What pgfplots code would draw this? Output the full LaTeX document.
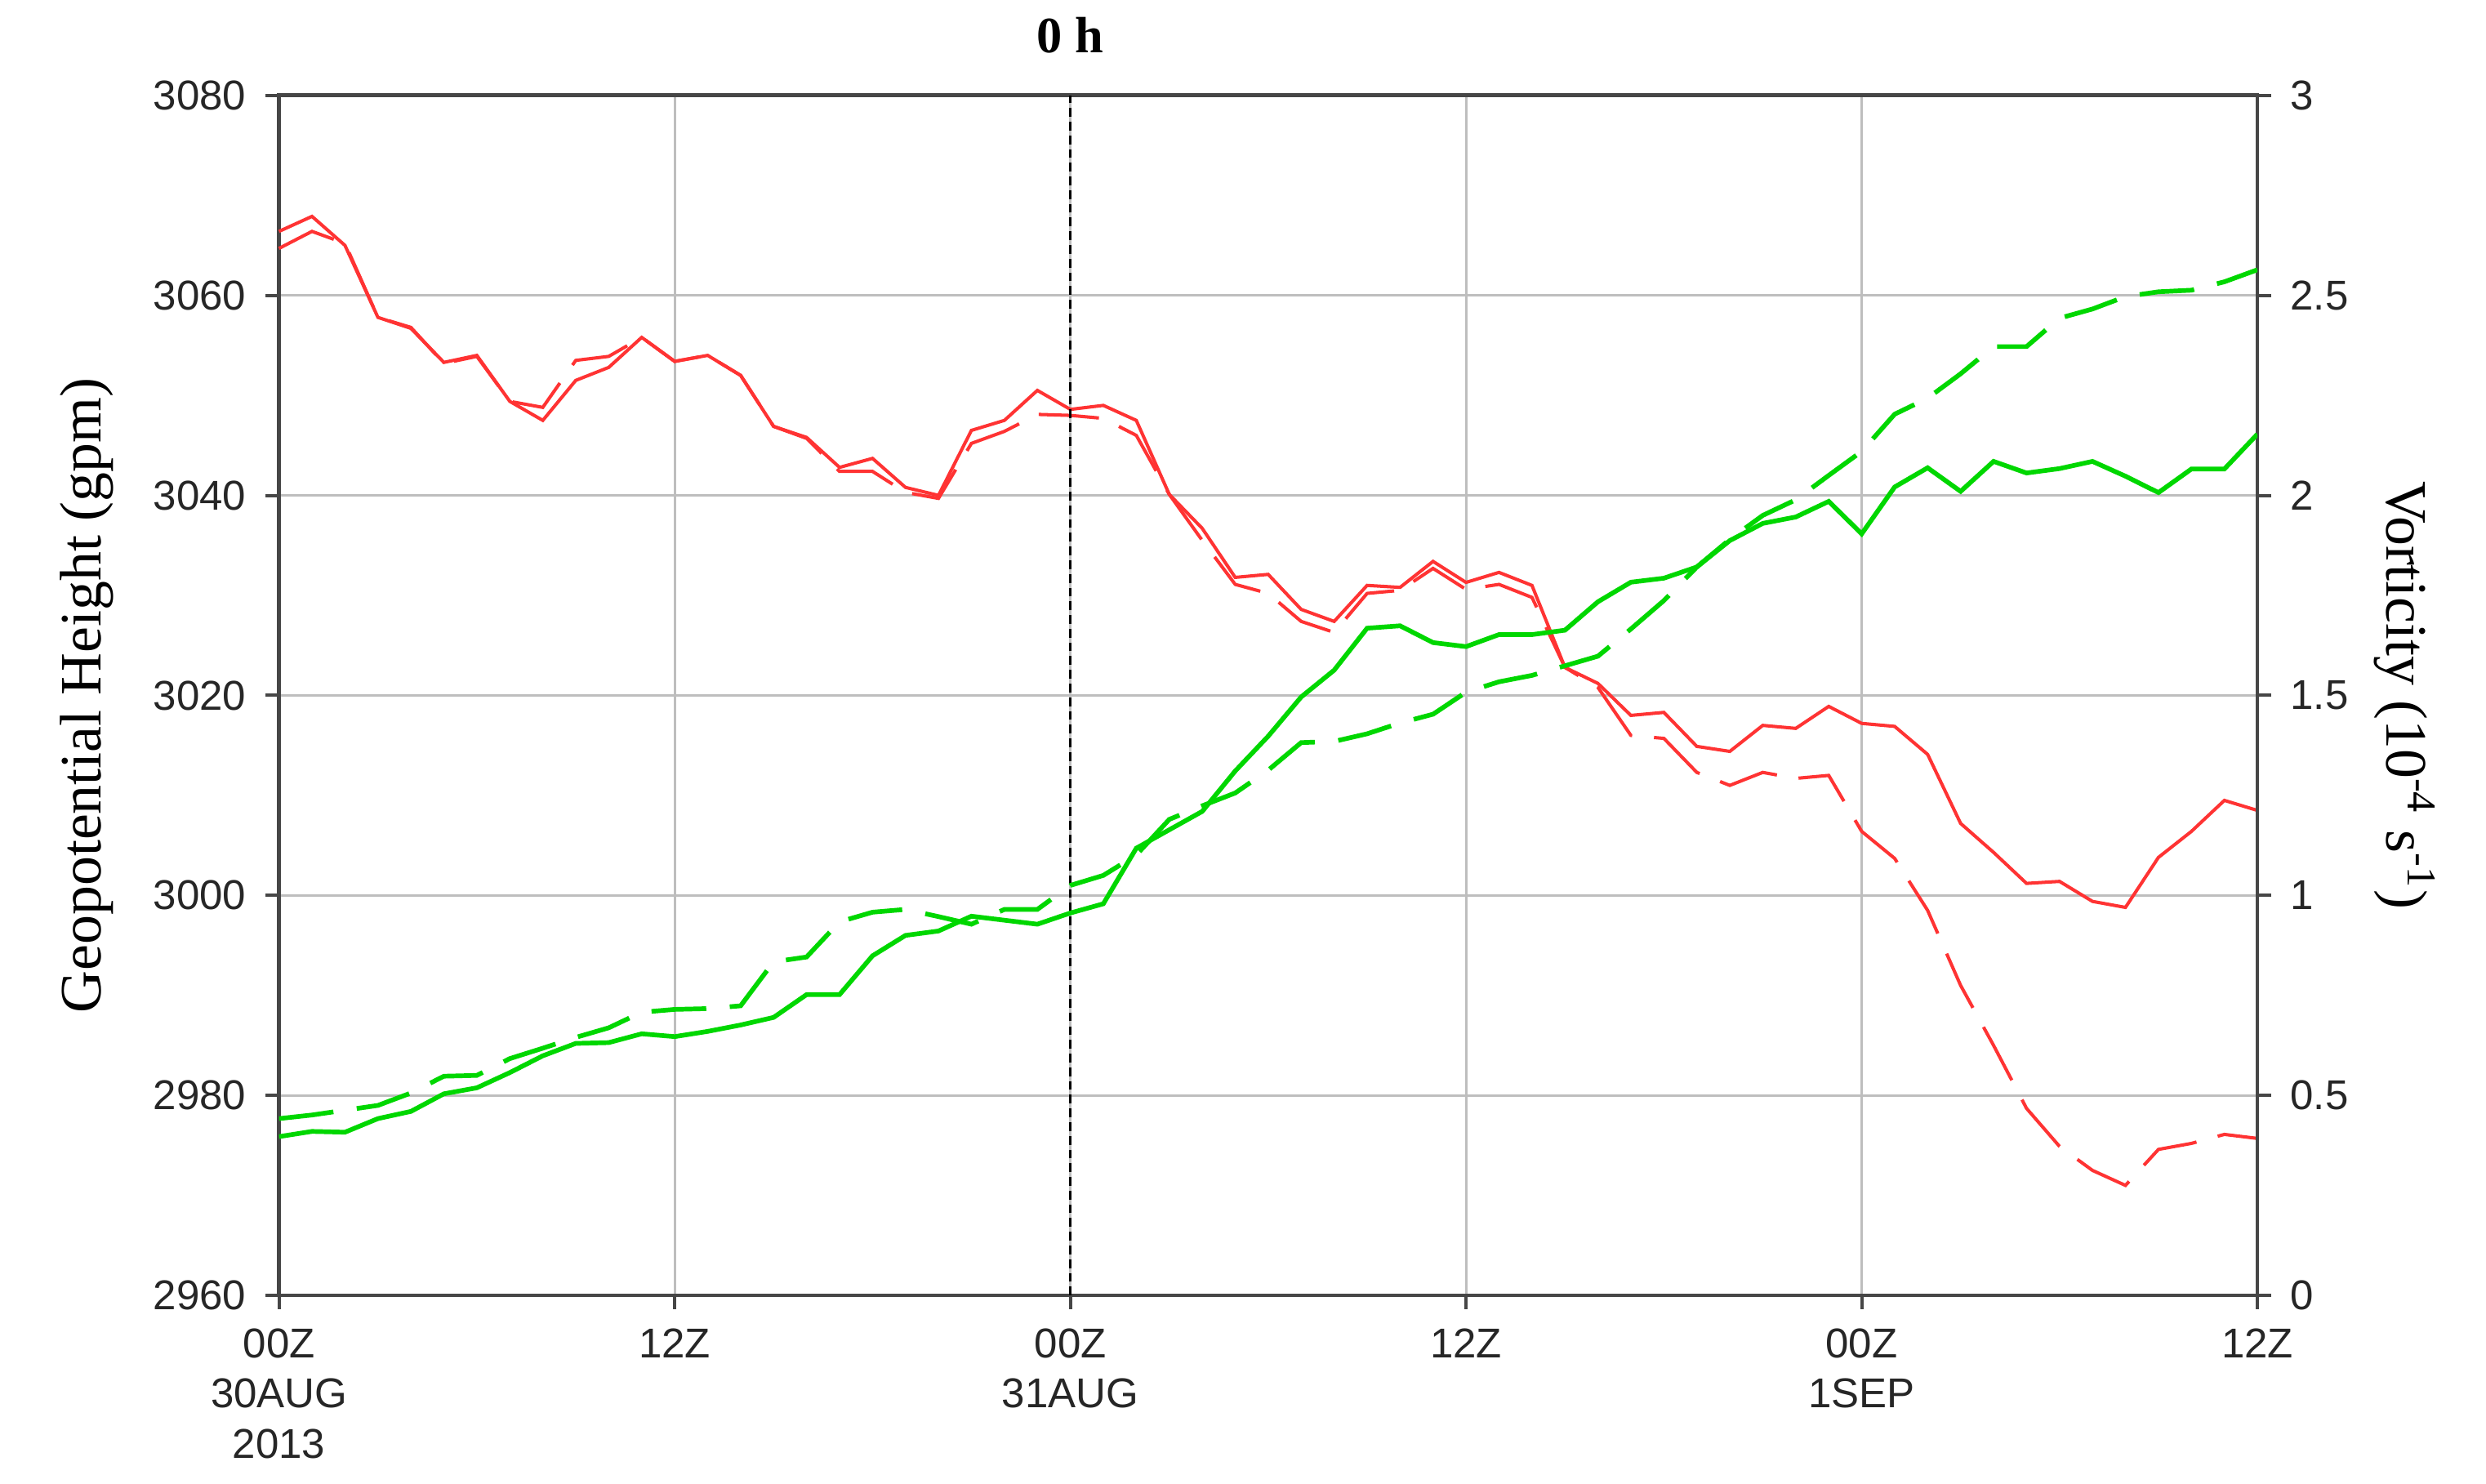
\documentclass[border=0pt]{standalone}
\usepackage{fontspec}
\setmainfont{Liberation Serif}
\newfontfamily\tickfont{Liberation Sans}
\usepackage{pgfplots}
\usepackage{pgfplotstable}
\pgfplotsset{compat=1.18}

\definecolor{hgtred}{RGB}{255,51,51}
\definecolor{vorgreen}{RGB}{0,215,0}
\definecolor{gridgray}{RGB}{190,190,190}
\definecolor{axgray}{RGB}{70,70,70}

% hour, height solid/dashed (gpm), vorticity solid/dashed (1e-4 s-1)
\pgfplotstableread{
h  gs     gd     vs    vd
0  3066.4 3064.7 0.397 0.442
1  3067.9 3066.4 0.410 0.451
2  3065.0 3065.2 0.408 0.463
3  3057.8 3057.8 0.442 0.475
4  3056.7 3056.8 0.460 0.506
5  3053.3 3053.2 0.504 0.548
6  3054.0 3053.9 0.519 0.550
7  3049.4 3049.4 0.557 0.592
8  3047.5 3048.8 0.599 0.618
9  3051.5 3053.5 0.630 0.645
10 3052.8 3053.9 0.632 0.669
11 3055.8 3055.8 0.654 0.708
12 3053.4 3053.4 0.647 0.715
13 3054.0 3054.0 0.660 0.717
14 3052.0 3052.0 0.676 0.724
15 3046.9 3046.9 0.695 0.834
16 3045.8 3045.7 0.752 0.846
17 3042.8 3042.4 0.752 0.934
18 3043.7 3042.4 0.849 0.958
19 3040.8 3040.3 0.900 0.965
20 3040.0 3039.7 0.911 0.947
21 3046.5 3045.2 0.948 0.928
22 3047.5 3046.4 0.938 0.965
23 3050.5 3048.1 0.928 0.965
24 3048.6 3048.0 0.956 1.025
25 3049.0 3047.7 0.979 1.050
26 3047.5 3046.0 1.118 1.101
27 3040.1 3040.1 1.164 1.190
28 3036.7 3035.5 1.210 1.224
29 3031.8 3031.1 1.311 1.256
30 3032.1 3030.2 1.398 1.313
31 3028.6 3027.4 1.496 1.382
32 3027.4 3026.3 1.563 1.385
33 3031.0 3030.2 1.668 1.404
34 3030.8 3030.5 1.674 1.431
35 3033.4 3032.7 1.632 1.453
36 3031.3 3030.6 1.622 1.508
37 3032.3 3031.1 1.652 1.534
38 3031.0 3029.8 1.652 1.550
39 3022.8 3022.8 1.663 1.574
40 3021.2 3020.8 1.734 1.598
41 3018.0 3016.0 1.783 1.666
42 3018.3 3015.7 1.793 1.737
43 3014.9 3012.3 1.821 1.821
44 3014.4 3011.0 1.887 1.890
45 3017.0 3012.3 1.930 1.950
46 3016.7 3011.7 1.946 1.989
47 3018.9 3012.0 1.985 2.050
48 3017.2 3006.4 1.904 2.110
49 3016.9 3003.7 2.021 2.203
50 3014.1 2998.5 2.069 2.243
51 3007.2 2991.0 2.010 2.304
52 3004.3 2985.0 2.085 2.372
53 3001.2 2978.7 2.056 2.372
54 3001.4 2974.9 2.067 2.443
55 2999.4 2972.5 2.085 2.466
56 2998.8 2971.0 2.048 2.497
57 3003.8 2974.6 2.007 2.509
58 3006.4 2975.2 2.066 2.513
59 3009.5 2976.1 2.066 2.534
60 3008.5 2975.7 2.153 2.564
}\series

\pgfplotsset{
  common/.style={
    scale only axis, width=360.9pt, height=218.9pt,
    at={(0pt,0pt)}, anchor=south west,
    xmin=0, xmax=60, xtick={0,12,24,36,48,60},
    tick align=outside, major tick length=2.5pt,
    every tick/.style={axgray, line width=0.6pt},
    axis line style={axgray, line width=0.7pt},
    ticklabel style={font=\tickfont\fontsize{7.6}{9.2}\selectfont, text=black!85},
    label style={font=\fontsize{10.7}{12}\selectfont},
  },
}

\begin{document}
\begin{tikzpicture}
\path[use as bounding box] (-50.9pt,-34.4pt) rectangle (402.6pt,236.3pt);

\begin{axis}[common,
  clip=false,
  ymin=2960, ymax=3080, ytick={2960,2980,...,3080},
  yticklabels={2960,2980,3000,3020,3040,3060,3080},
  xticklabels={{00Z\\30AUG\\2013},{12Z},{00Z\\31AUG},{12Z},{00Z\\1SEP},{12Z}},
  xticklabel style={align=center},
  tick pos=left,
  grid=major, major grid style={gridgray, line width=0.45pt},
  ylabel={Geopotential Height (gpm)},
  ylabel style={at={(axis description cs:-0.097,0.5)}, anchor=center},
]
\addplot[hgtred, line width=0.6pt] table[x=h, y=gs] {\series};
\addplot[hgtred, line width=0.6pt, dash pattern=on 11pt off 4pt] table[x=h, y=gd] {\series};
\draw[black, line width=0.5pt, dash pattern=on 1.6pt off 0.9pt] (axis cs:24,2960) -- (axis cs:24,3080);
\node[anchor=base, font=\bfseries\fontsize{9.3}{11}\selectfont, yshift=7.8pt] at (axis cs:24,3080) {0 h};
\end{axis}

\begin{axis}[common,
  ymin=0, ymax=3, ytick={0,0.5,...,3},
  yticklabels={0,0.5,1,1.5,2,2.5,3},
  axis x line=none, axis y line*=right, ytick pos=right,
  ylabel={Vorticity (10\textsuperscript{-4} s\textsuperscript{-1})},
  ylabel style={at={(axis description cs:1.0745,0.5)}, anchor=center, rotate=180},
]
\addplot[vorgreen, line width=0.85pt] table[x=h, y=vs] {\series};
\addplot[vorgreen, line width=0.85pt, dash pattern=on 10pt off 4.3pt] table[x=h, y=vd] {\series};
\end{axis}
\end{tikzpicture}
\end{document}
